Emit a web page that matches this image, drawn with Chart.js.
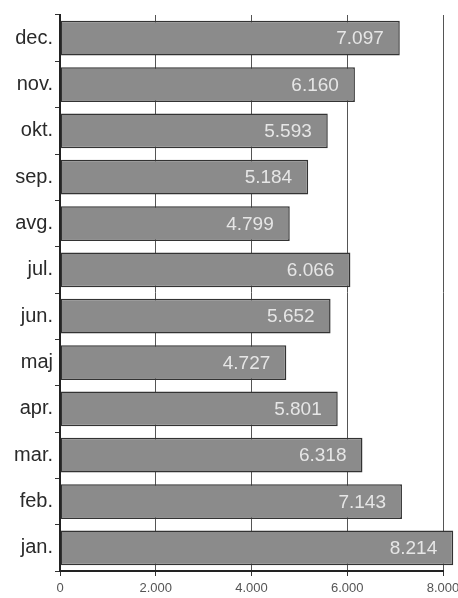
<!DOCTYPE html>
<html>
<head>
<meta charset="utf-8">
<script src="https://cdn.jsdelivr.net/npm/chart.js@4"></script>
<style>
  html, body { margin: 0; padding: 0; background: #fff; }
  #wrap { width: 458px; height: 598px; }
</style>
</head>
<body>
<div id="wrap"><canvas id="Mesec_Chart"></canvas></div>
<script>
// podatki
const meseci = ["jan.", "feb.", "mar.", "apr.", "maj", "jun.", "jul.", "avg.", "sep.", "okt.", "nov.", "dec."];
const vrednosti = [8214, 7143, 6318, 5801, 4727, 5652, 6066, 4799, 5184, 5593, 6160, 7097];
const xTicks = [0, 2000, 4000, 6000, 8000];

function fmt(v) {
    return String(v).replace(/\B(?=(\d{3})+(?!\d))/g, '.');
}

// napisi v stolpcih
const valueLabels = {
    id: 'valueLabels',
    afterDatasetsDraw(chart) {
        const ctx = chart.ctx;
        const meta = chart.getDatasetMeta(0);
        ctx.save();
        ctx.font = '19px "Liberation Sans", Arial, sans-serif';
        ctx.fillStyle = '#e6e6e6';
        ctx.textAlign = 'right';
        ctx.textBaseline = 'middle';
        meta.data.forEach((bar, i) => {
            ctx.fillText(fmt(vrednosti[i]), bar.x - 16, bar.y + 1);
        });
        ctx.restore();
    }
};

let mc = document.getElementById('Mesec_Chart');
let m_chart = new Chart(mc, {
    type: 'bar',
    data: {
        labels: meseci,
        datasets: [{
            data: vrednosti,
            backgroundColor: '#8b8b8b',
            borderColor: '#333',
            borderWidth: 1.5,
            borderSkipped: false,
            barPercentage: 0.75,
            categoryPercentage: 1,
            clip: false
        }]
    },
    options: {
        indexAxis: 'y',
        responsive: true,
        maintainAspectRatio: false,
        animation: false,
        layout: { padding: { top: 15, right: 0, left: 0, bottom: 0 } },
        plugins: { legend: { display: false }, tooltip: { enabled: false } },
        scales: {
            x: {
                min: 0,
                max: 8000,
                afterBuildTicks: (s) => { s.ticks = xTicks.map(v => ({ value: v })); },
                afterFit: (s) => { s.height = 27; s.paddingRight = 15; },
                grid: { color: '#555', lineWidth: 1, tickLength: 5, tickColor: '#333' },
                border: { color: '#222', width: 2 },
                ticks: {
                    callback: (v) => fmt(v),
                    color: '#555',
                    padding: 5,
                    maxRotation: 0,
                    font: { family: '"Liberation Sans", Arial, sans-serif', size: 13 }
                }
            },
            y: {
                reverse: true,
                afterFit: (s) => { s.width = 60; },
                grid: { drawOnChartArea: false, tickLength: 5, tickColor: '#333', offset: true },
                border: { color: '#222', width: 2 },
                ticks: {
                    color: '#2a2a2a',
                    padding: 2,
                    font: { family: '"Liberation Sans", Arial, sans-serif', size: 20 }
                }
            }
        }
    },
    plugins: [valueLabels]
});
</script>
</body>
</html>
